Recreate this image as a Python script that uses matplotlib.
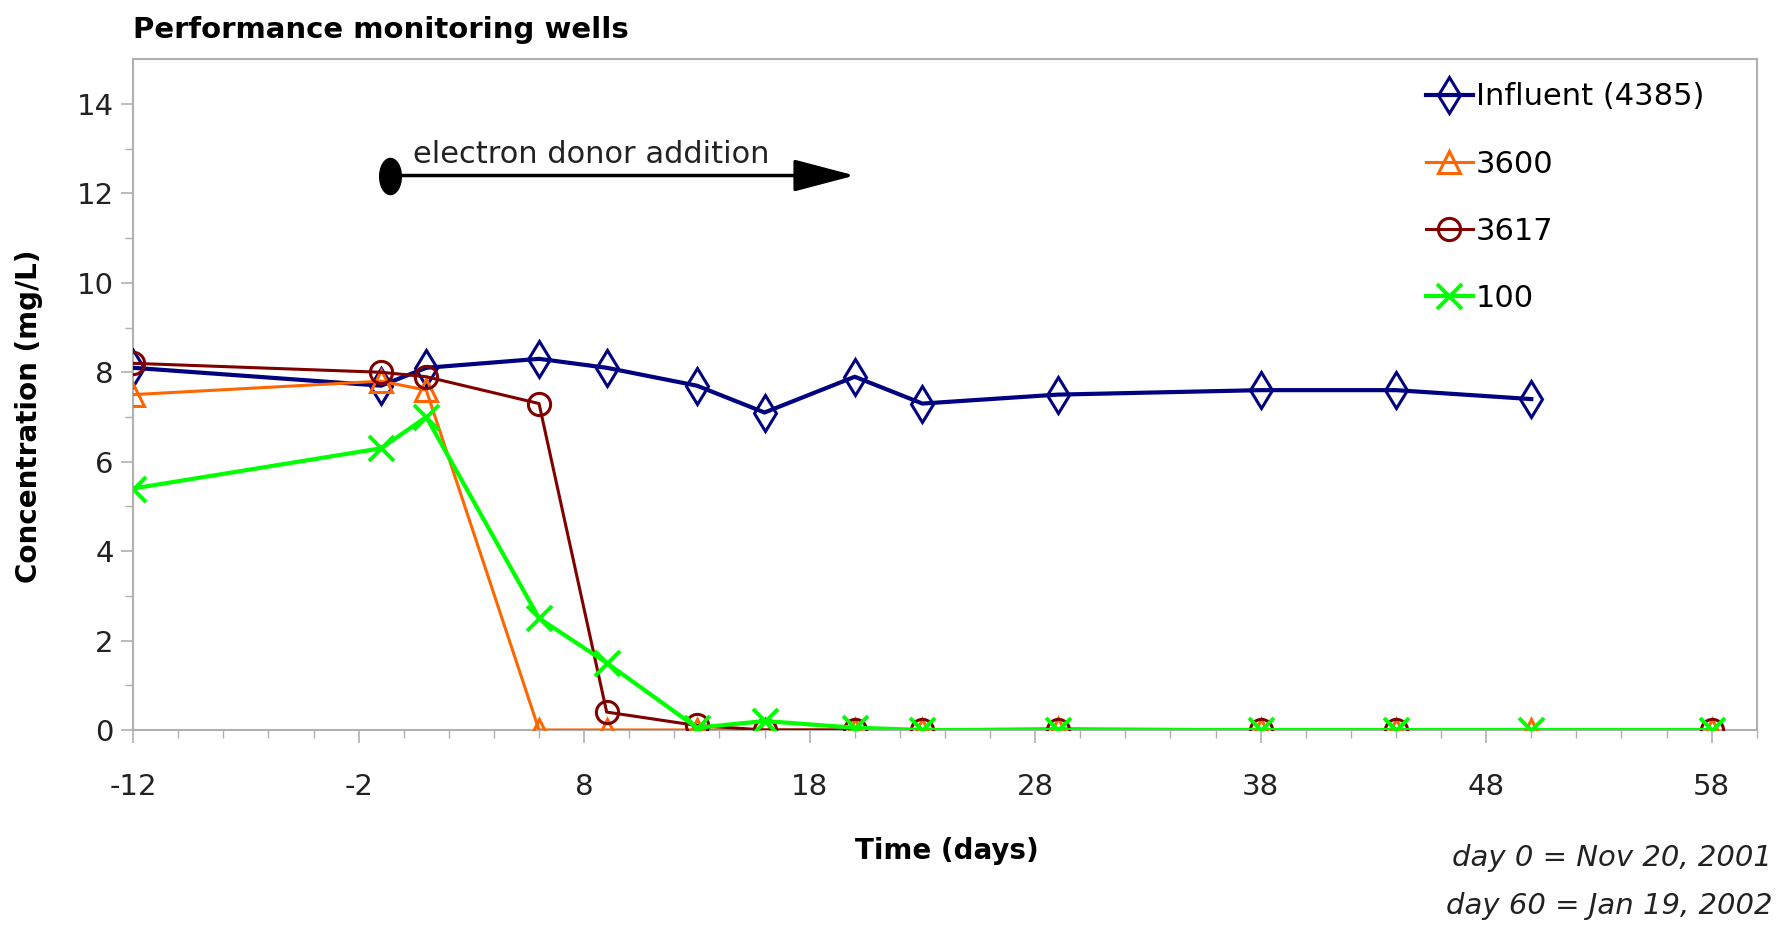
import numpy as np
import matplotlib
matplotlib.use("Agg")
import matplotlib.pyplot as plt
from matplotlib.path import Path

plt.rcParams['font.family'] = ['DejaVu Sans']
plt.rcParams['axes.unicode_minus'] = False

# days since Nov 20, 2001
days_inf = [-12, -1, 1, 6, 9, 13, 16, 20, 23, 29, 38, 44, 50]
influent = [8.1, 7.7, 8.1, 8.3, 8.1, 7.7, 7.1, 7.9, 7.3, 7.5, 7.6, 7.6, 7.4]

days_3600 = [-12, -1, 1, 6, 9, 13, 16, 20, 23, 29, 38, 44, 50, 58]
w3600 = [7.5, 7.8, 7.6, 0.0, 0.0, 0.0, 0.0, 0.0, 0.0, 0.03, 0.0, 0.0, 0.0, 0.0]

days_3617 = [-12, -1, 1, 6, 9, 13, 16, 20, 23, 29, 38, 44, 58]
w3617 = [8.2, 8.0, 7.9, 7.3, 0.4, 0.1, 0.0, 0.0, 0.0, 0.0, 0.0, 0.0, 0.0]

days_100 = [-12, -1, 1, 6, 9, 13, 16, 20, 23, 29, 38, 44, 50, 58]
w100 = [5.4, 6.3, 7.0, 2.5, 1.5, 0.05, 0.2, 0.05, 0.0, 0.0, 0.0, 0.0, 0.0, 0.0]

DONOR_START, DONOR_END, DONOR_Y = -0.6, 20.0, 12.4

GRAY = "#b0b0b0"

fig = plt.figure(figsize=(17.89, 9.26), dpi=100)
ax = fig.add_axes([0.0744, 0.2117, 0.9076, 0.7243])

ax.plot(days_inf, influent, color="#000080", lw=3, marker="d", ms=18, mfc="none",
        mew=2.2, label="Influent (4385)", zorder=3)
ax.plot(days_3600, w3600, color="#ff6600", lw=2.2, marker="^", ms=16, mfc="none",
        mew=2.2, label="3600", zorder=3)
ax.plot(days_3617, w3617, color="#800000", lw=2.2, marker="o", ms=16, mfc="none",
        mew=2.2, label="3617", zorder=4)
ax.plot(days_100, w100, color="#00ff00", lw=3, marker="x", ms=18, mew=2.8,
        label="100", zorder=5)

# electron donor addition arrow
circ = Path.unit_circle()
dot = Path(circ.vertices * [0.6, 1.0], circ.codes)
ax.annotate("", xy=(DONOR_END, DONOR_Y), xytext=(DONOR_START, DONOR_Y),
            arrowprops=dict(arrowstyle="-|>,head_length=1.9,head_width=0.5", lw=2.5,
                            color="black", mutation_scale=20, shrinkA=0, shrinkB=0))
ax.plot([DONOR_START], [DONOR_Y], marker=dot, ms=26, color="black", zorder=6)
ax.text(DONOR_START + 1.0, DONOR_Y + 0.15, "electron donor addition", fontsize=22,
        ha="left", va="bottom", color="#222222")

ax.set_xlim(-12, 60)
ax.set_ylim(0, 15)
ax.set_xticks(np.arange(-12, 59, 10))
ax.set_xticks(np.arange(-12, 61, 2), minor=True)
ax.set_yticks(np.arange(0, 15, 2))
ax.set_yticks(np.arange(1, 15, 2), minor=True)
for s in ax.spines.values():
    s.set_color(GRAY)
    s.set_linewidth(1.5)
ax.tick_params(axis="both", which="both", colors=GRAY, labelcolor="#222222")
ax.tick_params(axis="both", which="major", length=9, width=1.2, labelsize=21)
ax.tick_params(axis="x", which="major", pad=22)
ax.tick_params(axis="y", which="major", pad=5)
ax.tick_params(axis="both", which="minor", length=6, width=1.0)

ax.set_xlabel("Time (days)", fontsize=20, fontweight="bold")
ax.xaxis.set_label_coords(0.501, -0.16)
ax.set_ylabel("Concentration (mg/L)", fontsize=20, fontweight="bold", va="center")
ax.yaxis.set_label_coords(-0.064, 0.468)
fig.text(0.0744, 0.968, "Performance monitoring wells", fontsize=21, fontweight="bold",
         ha="left", va="center")

ax.legend(loc="upper left", bbox_to_anchor=(0.781, 1.002), frameon=False, fontsize=22,
          labelspacing=1.25, handlelength=1.55, handletextpad=0.1, borderpad=0.3)

fig.text(0.9905, 0.0735, "day 0 = Nov 20, 2001", fontsize=21, style="italic",
         ha="right", va="center", color="#222222")
fig.text(0.9905, 0.022, "day 60 = Jan 19, 2002", fontsize=21, style="italic",
         ha="right", va="center", color="#222222")

fig.savefig("out.png", dpi=100)
